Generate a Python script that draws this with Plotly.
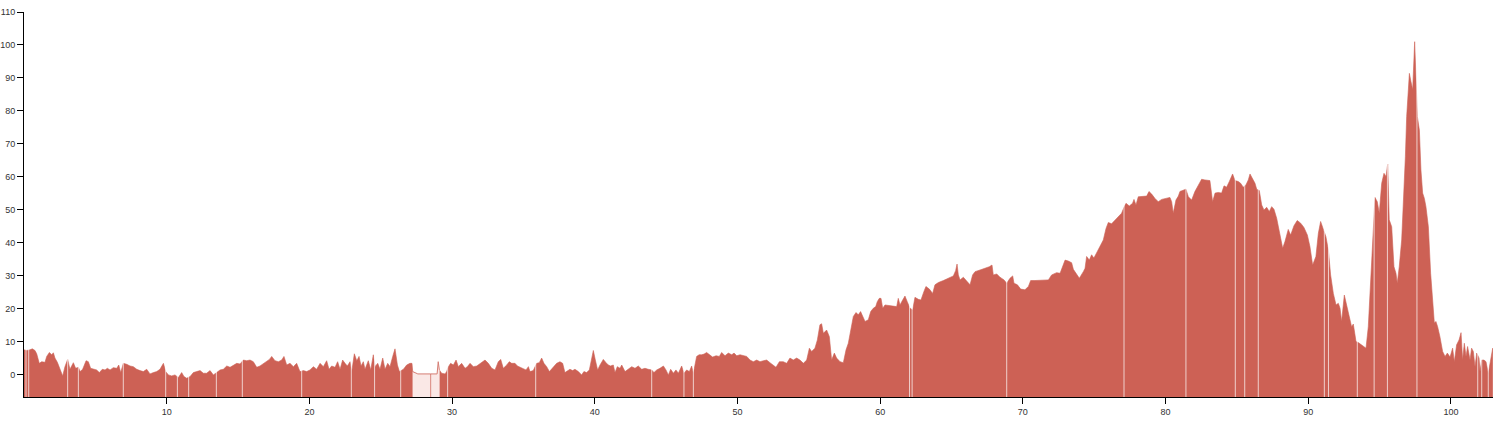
import plotly.graph_objects as go

# ---- data (x in chart units, value) ----
x_vals = [
    0.00, 0.19, 0.42, 0.58, 0.77, 0.89, 1.07, 1.24, 1.47, 1.59,
    1.78, 1.94, 2.06, 2.17, 2.34, 2.52, 2.71, 2.87, 3.06, 3.22,
    3.46, 3.62, 3.81, 3.93, 4.11, 4.35, 4.51, 4.67, 4.86, 5.09,
    5.28, 5.49, 5.68, 5.84, 6.03, 6.26, 6.50, 6.64, 6.78, 6.96,
    7.20, 7.43, 7.66, 7.90, 8.13, 8.36, 8.60, 8.83, 9.07, 9.30,
    9.53, 9.77, 9.93, 10.12, 10.35, 10.58, 10.82, 11.05, 11.21, 11.40,
    11.64, 11.87, 12.10, 12.34, 12.57, 12.80, 13.04, 13.27, 13.50, 13.74,
    13.97, 14.21, 14.44, 14.67, 14.91, 15.14, 15.37, 15.61, 15.84, 16.07,
    16.31, 16.54, 16.78, 17.01, 17.20, 17.36, 17.59, 17.83, 18.06, 18.22,
    18.41, 18.64, 18.88, 19.11,
    19.34, 19.58, 19.81, 20.04, 20.28, 20.51, 20.75, 20.98, 21.21, 21.38,
    21.56, 21.80, 21.98, 22.15, 22.33, 22.50, 22.66, 22.85, 22.97, 23.15,
    23.32, 23.48, 23.62, 23.78, 23.90, 24.13, 24.30, 24.48, 24.60, 24.79,
    24.95, 25.14, 25.30, 25.49, 25.65, 25.84, 26.00, 26.17, 26.31, 26.59,
    26.82, 27.05, 27.19, 27.24,
    28.20,
    29.11, 29.27, 29.51, 29.62, 29.74, 29.90, 30.09, 30.28, 30.44, 30.67,
    30.91, 31.07, 31.26, 31.49, 31.73, 31.96, 32.15, 32.31, 32.54, 32.78,
    33.01, 33.24, 33.41, 33.59, 33.83, 34.01, 34.18, 34.41, 34.58, 34.76,
    35.00, 35.18, 35.35, 35.46, 35.69, 35.93, 36.11,
    36.28, 36.44, 36.63, 36.82, 36.98, 37.14, 37.33, 37.56, 37.75, 37.91,
    38.08, 38.26, 38.45, 38.61, 38.85, 39.08, 39.24, 39.43, 39.62, 39.78,
    39.90, 40.04, 40.20, 40.37, 40.60, 40.79, 40.95, 41.11, 41.30, 41.42,
    41.58, 41.77, 41.89, 42.12, 42.35, 42.59, 42.82, 43.05, 43.29, 43.52,
    43.75, 43.99, 44.15, 44.34, 44.57, 44.81, 44.99, 45.16, 45.32, 45.51,
    45.69, 45.86, 46.09, 46.25, 46.44, 46.63, 46.79, 46.91, 47.14, 47.31,
    47.49, 47.66, 47.84, 48.03, 48.26, 48.50, 48.73, 48.89, 49.13, 49.36,
    49.60, 49.76, 49.95, 50.18, 50.41, 50.65, 50.88, 51.11, 51.35, 51.58,
    51.82, 52.05, 52.28, 52.52, 52.70, 52.94,
    53.21, 53.45, 53.68, 53.91, 54.15, 54.38, 54.62, 54.85, 55.04, 55.20,
    55.43, 55.60, 55.78, 55.90, 56.02, 56.25, 56.44, 56.60, 56.79, 56.95,
    57.19, 57.42, 57.61, 57.77, 57.93, 58.12, 58.31, 58.47, 58.63, 58.77,
    58.94, 59.17, 59.34, 59.52, 59.69, 59.80, 59.94, 60.06, 60.18, 60.34,
    60.69, 61.16, 61.27, 61.39, 61.58, 61.74, 61.90, 62.09, 62.28, 62.44,
    62.68, 62.86, 63.07, 63.21, 63.45, 63.68, 63.84, 64.08, 64.43, 64.78,
    65.13, 65.29, 65.39, 65.48, 65.60, 65.83, 66.07, 66.30, 66.48, 66.65,
    67.00, 67.35, 67.65, 67.84, 67.93, 68.17, 68.40, 68.68, 68.87, 69.10,
    69.29, 69.38, 69.62, 69.85, 70.15, 70.39, 70.55, 70.85, 71.20, 71.55,
    71.79, 72.02, 72.37, 72.61, 72.84, 72.96, 73.19, 73.42, 73.54, 73.66,
    73.96,
    74.24, 74.36, 74.47, 74.66, 74.82, 74.98, 75.22, 75.45, 75.64, 75.83,
    75.99, 76.22, 76.46, 76.69, 76.92, 77.09, 77.23, 77.46, 77.69, 77.79,
    77.93, 78.09, 78.44, 78.68, 78.84, 79.03, 79.26, 79.49, 79.73, 80.03,
    80.31, 80.43, 80.54, 80.73, 80.90, 81.01, 81.25, 81.43, 81.60, 81.83,
    82.06, 82.30, 82.53, 82.76, 83.11, 83.30, 83.47, 83.70, 83.93, 84.10,
    84.28, 84.47, 84.70, 84.87, 85.10, 85.26, 85.45, 85.64, 85.80, 85.92,
    86.11, 86.27, 86.39, 86.57, 86.74, 86.90, 87.09, 87.27, 87.44, 87.60,
    87.79, 87.97,
    88.21, 88.37, 88.60, 88.77, 89.00, 89.23, 89.47, 89.70, 89.94, 90.12,
    90.31, 90.54, 90.71, 90.87, 91.06, 91.24, 91.41, 91.57, 91.76, 91.95,
    92.11, 92.23, 92.34, 92.53, 92.69, 92.88, 93.04, 93.16, 93.35, 93.51,
    93.74, 94.05, 94.21, 94.38, 94.56, 94.68, 94.84, 94.98, 95.15, 95.31,
    95.45, 95.57, 95.68, 95.85, 96.01, 96.15, 96.24, 96.38, 96.55, 96.71,
    96.81, 96.90, 97.02, 97.09, 97.20, 97.32, 97.46, 97.55, 97.65, 97.79,
    97.90, 98.02, 98.14, 98.25, 98.42, 98.58, 98.72, 98.84, 98.95, 99.07,
    99.23, 99.42, 99.59, 99.75, 99.94, 100.12, 100.24, 100.40, 100.57, 100.71,
    100.82, 100.94, 101.06, 101.17, 101.34, 101.45, 101.57, 101.69, 101.81, 101.97,
    102.04, 102.16, 102.32, 102.46, 102.62, 102.79, 102.93,
]

y_vals = [
    7.6, 7.4, 7.6, 7.9, 7.4, 6.4, 3.5, 4.0, 3.8, 5.6,
    6.8, 6.1, 6.7, 5.1, 3.8, 1.5, -0.3, 2.5, 4.7, 1.7,
    3.7, 2.0, 2.3, 1.0, 1.7, 4.3, 4.0, 2.0, 1.7, 1.5,
    0.7, 1.7, 1.5, 2.0, 1.5, 2.2, 2.0, 3.0, 0.7, 3.5,
    3.2, 2.7, 2.5, 1.7, 1.3, 1.0, 1.7, 0.3, 0.7, 1.0,
    1.7, 3.5, 1.0, 0.0, -0.3, 0.0, -0.8, 0.7, -0.5, -1.0,
    -0.5, 0.7, 1.0, 1.3, 0.5, 0.5, 1.3, 0.0, 0.7, 1.5,
    1.7, 2.7, 2.3, 3.0, 3.5, 3.3, 4.5, 4.3, 4.5, 4.0,
    2.3, 2.7, 3.5, 4.0, 4.7, 5.6, 4.3, 4.0, 4.5, 5.6,
    3.0, 3.5, 2.5, 3.5,
    1.0, 1.3, 1.0, 1.5, 2.5, 1.7, 3.5, 2.5, 4.3, 1.7,
    2.7, 2.3, 4.0, 1.7, 4.5, 3.5, 2.7, 4.0, 1.0, 6.4,
    4.3, 5.6, 2.7, 4.0, 1.7, 4.3, 1.5, 6.1, 2.5, 3.5,
    1.7, 5.1, 1.7, 3.5, 2.5, 5.6, 7.9, 3.0, 1.0, 1.7,
    3.0, 3.5, 3.5, 1.0,
    None,
    1.5, 0.5, 0.3, 1.0, 2.5, 3.5, 3.0, 4.5, 2.5, 3.5,
    2.0, 2.5, 3.5, 2.5, 2.7, 3.5, 4.0, 4.5, 3.5, 2.0,
    1.5, 4.0, 4.7, 2.0, 3.0, 4.0, 3.5, 3.5, 2.7, 2.3,
    1.7, 1.5, 2.5, 1.0, 1.3, 3.5, 3.7,
    5.1, 3.5, 2.5, 1.0, 1.7, 2.5, 3.5, 4.0, 3.5, 0.7,
    1.3, 1.7, 1.3, 1.7, 1.0, 0.0, 1.0, 0.7, 1.5, 4.5,
    7.4, 4.5, 1.5, 3.0, 4.7, 3.7, 3.0, 2.7, 3.0, 0.7,
    2.5, 2.0, 3.0, 1.0, 1.7, 2.5, 2.0, 2.7, 1.7, 2.0,
    1.7, 1.5, 0.7, 1.5, 2.0, 2.7, 1.5, 0.0, 1.7, 0.5,
    1.5, 0.5, 2.7, 0.5, 1.5, 1.0, 2.7, 0.5, 5.6, 6.1,
    6.1, 6.3, 6.8, 6.1, 5.4, 5.8, 5.6, 6.8, 5.8, 6.6,
    6.1, 6.6, 5.8, 6.1, 5.8, 5.6, 4.5, 4.0, 4.5, 4.0,
    4.3, 4.5, 3.7, 3.0, 2.3, 4.0,
    4.0, 3.5, 5.1, 4.5, 5.1, 4.5, 3.5, 4.5, 8.1, 7.1,
    8.1, 10.6, 15.2, 15.5, 12.6, 13.6, 11.6, 4.5, 6.6, 5.1,
    4.0, 3.7, 7.6, 9.6, 13.6, 17.7, 18.9, 18.2, 19.2, 17.7,
    16.2, 16.7, 19.2, 20.2, 20.7, 22.2, 23.2, 23.2, 20.2, 21.2,
    20.9, 20.7, 23.2, 21.2, 22.7, 23.9, 22.2, 20.2, 19.7, 23.5,
    22.9, 22.7, 25.3, 26.8, 26.0, 24.7, 27.3, 28.0, 28.6, 29.3,
    30.0, 31.6, 33.6, 30.3, 28.8, 29.6, 28.3, 27.3, 30.3, 31.3,
    31.8, 32.3, 32.8, 33.3, 30.3, 30.6, 29.6, 28.8, 27.8, 29.3,
    30.0, 27.8, 27.3, 26.0, 25.8, 26.8, 28.6, 28.6, 28.6, 28.8,
    28.8, 30.3, 31.0, 30.8, 33.3, 34.8, 34.5, 34.0, 32.0, 31.3,
    29.3,
    31.3, 32.3, 35.9, 34.8, 36.4, 35.4, 37.4, 39.4, 40.9, 44.4,
    46.2, 45.8, 47.0, 48.0, 49.0, 50.8, 52.0, 51.2, 52.0, 53.2,
    51.5, 54.0, 54.2, 54.2, 55.6, 54.8, 53.5, 52.5, 53.2, 53.5,
    53.8, 52.5, 49.0, 53.0, 54.2, 55.6, 56.1, 56.3, 54.0, 53.0,
    55.6, 57.6, 59.3, 59.1, 58.9, 52.5, 55.1, 55.3, 55.1, 57.3,
    56.9, 58.6, 60.9, 58.9, 58.6, 58.1, 56.9, 57.6, 59.1, 60.9,
    59.3, 58.1, 56.3, 55.9, 51.5, 50.0, 50.8, 49.5, 51.0, 50.2,
    47.5, 43.9,
    38.4, 40.4, 44.1, 42.4, 45.2, 46.8, 46.0, 44.7, 42.4, 38.9,
    33.3, 35.9, 42.9, 46.5, 43.9, 41.9, 37.9, 30.3, 24.7, 21.2,
    21.7, 20.2, 16.2, 24.2, 21.2, 17.2, 14.6, 15.4, 10.1, 9.8,
    9.1, 8.1, 14.6, 28.8, 44.9, 53.8, 52.5, 49.0, 58.1, 61.1,
    60.1, 63.9, 47.0, 44.9, 32.8, 30.8, 27.8, 32.8, 40.9, 55.1,
    66.2, 78.3, 84.8, 91.4, 88.9, 86.4, 101.0, 89.4, 78.3, 74.2,
    62.1, 55.1, 53.5, 51.0, 44.9, 30.8, 21.7, 15.7, 16.2, 14.6,
    11.6, 7.1, 5.6, 6.6, 5.4, 8.1, 4.0, 9.1, 10.6, 12.8,
    4.5, 9.6, 5.6, 8.6, 4.5, 8.1, 7.1, 2.5, 6.6, 5.1,
    1.0, 4.5, 4.5, 4.0, 0.5, 4.5, 8.1,
]

# missing-data span (drawn pale)
missing_x = [27.24, 27.40, 27.60, 28.50, 28.95, 29.03, 29.11]
missing_y = [1.0, 0.6, 0.3, 0.3, 0.3, 4.0, 1.5]
missing_divider_x = 28.50

# positions of single missing samples (thin breaks in the area)
gap_x = [0.14, 0.33, 3.06, 3.81, 6.96, 9.93, 10.75, 11.54, 13.48, 15.30,
         19.46, 22.94, 24.57, 26.40, 29.69, 35.86, 43.99, 46.25, 46.91,
         62.06, 62.24, 68.87, 77.09, 81.43, 84.89, 85.55, 86.50, 91.13,
         91.42, 93.44, 94.62, 95.55, 97.62, 101.88, 102.16, 102.62]

x_ticks = [10, 20, 30, 40, 50, 60, 70, 80, 90, 100]
y_ticks = [0, 10, 20, 30, 40, 50, 60, 70, 80, 90, 100, 110]

X_RANGE = [0, 102.95]
Y_RANGE = [-6.7, 110]
BASE = -12
RED = "#cd6155"
PINK = "#fae8e6"

# ---- build closed area polygons per contiguous segment ----
poly_x, poly_y = [], []
seg_x, seg_y = [], []
for xv, yv in list(zip(x_vals, y_vals)) + [(None, None)]:
    if yv is None:
        if seg_x:
            poly_x += seg_x + [seg_x[-1], seg_x[0], None]
            poly_y += seg_y + [BASE, BASE, None]
        seg_x, seg_y = [], []
    else:
        seg_x.append(xv)
        seg_y.append(yv)

fig = go.Figure()

fig.add_trace(go.Scatter(
    x=poly_x, y=poly_y, mode="lines", fill="toself",
    fillcolor=RED, line=dict(color=RED, width=0.6),
    hoverinfo="skip", showlegend=False,
))

# pale missing-data region
fig.add_trace(go.Scatter(
    x=missing_x + [missing_x[-1], missing_x[0]],
    y=missing_y + [BASE, BASE],
    mode="lines", fill="toself", fillcolor=PINK,
    line=dict(width=0), hoverinfo="skip", showlegend=False,
))
fig.add_trace(go.Scatter(
    x=missing_x, y=missing_y, mode="lines",
    line=dict(color=RED, width=1), opacity=0.8,
    hoverinfo="skip", showlegend=False,
))
div_y = missing_y[missing_x.index(missing_divider_x)]
fig.add_trace(go.Scatter(
    x=[missing_divider_x, missing_divider_x], y=[BASE, div_y], mode="lines",
    line=dict(color=RED, width=1), opacity=0.7,
    hoverinfo="skip", showlegend=False,
))

# thin breaks
gx, gy = [], []
for g in gap_x:
    gx += [g, g, None]
    gy += [BASE, Y_RANGE[1] + 5, None]
fig.add_trace(go.Scatter(
    x=gx, y=gy, mode="lines",
    line=dict(color="rgba(255,255,255,0.7)", width=1),
    hoverinfo="skip", showlegend=False,
))

tickfont = dict(family="Liberation Sans, Arial, sans-serif", size=9, color="#333")
fig.update_layout(
    width=1499, height=422,
    margin=dict(l=24, r=6, t=12, b=25, autoexpand=False),
    paper_bgcolor="white", plot_bgcolor="white",
    showlegend=False,
)
fig.update_xaxes(
    range=X_RANGE, tickvals=x_ticks, ticks="outside", ticklen=6,
    tickcolor="black", tickwidth=1, showline=True, linecolor="black",
    linewidth=1, showgrid=False, zeroline=False, tickfont=tickfont,
    automargin=False,
)
fig.update_yaxes(
    range=Y_RANGE, tickvals=y_ticks, ticks="outside", ticklen=6,
    tickcolor="black", tickwidth=1, showline=True, linecolor="black",
    linewidth=1, showgrid=False, zeroline=False, tickfont=tickfont,
    automargin=False,
)

fig.write_html(
    "out.html",
    config={"displayModeBar": False},
    post_script="document.body.style.margin='0';document.body.style.overflow='hidden';",
)
